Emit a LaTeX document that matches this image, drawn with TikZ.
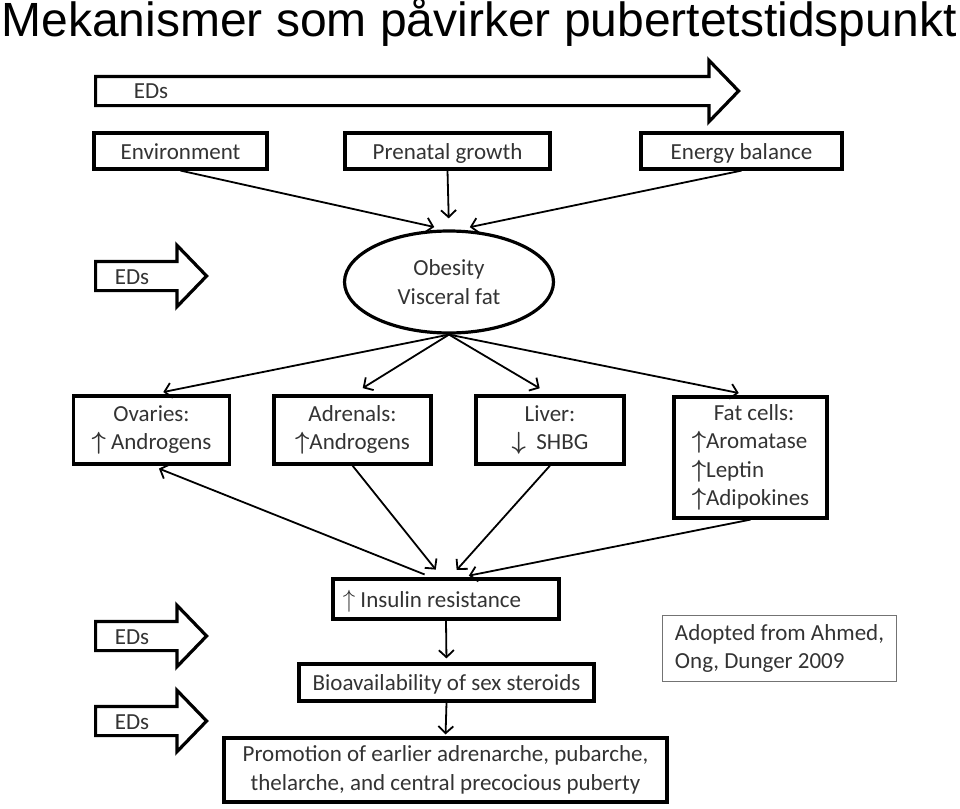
\documentclass[tikz,border=0pt]{standalone}
\usepackage{fontspec}
\usepackage{amsmath}
\setmainfont{Carlito}
\newfontfamily\titlefont{Liberation Sans}
\usetikzlibrary{shapes.geometric,shapes.arrows,arrows.meta}

\begin{document}
\begin{tikzpicture}[
        x=1pt, y=-1pt, % координаты как на исходной картинке
        font=\fontsize{23}{28.5}\selectfont,
        box/.style={draw, line width=3.2pt, inner sep=0pt, align=center, text=black!80}, % блоки схемы
        onebox/.style={box, text height=18pt, text depth=2pt}, % блоки в одну строку
        oval/.style={ellipse, draw, line width=3.2pt, inner sep=0pt, align=center, text=black!80},
        edarrow/.style={single arrow, draw, line width=3.2pt, inner xsep=0pt, inner ysep=13pt,
                single arrow head extend=16pt, single arrow tip angle=92, anchor=tail}, % стрелки EDs
        edtext/.style={text=black!80},
        link/.style={draw, line width=1.8pt, -{Straight Barb[length=7pt, width=15pt]}}, % связи
        note/.style={draw=black!55, line width=1.6pt, inner sep=0pt, align=left, text=black!80},
    ]

    \useasboundingbox (0,0) rectangle (960,808);

    \node[font=\titlefont\fontsize{48}{48}\selectfont, anchor=base] (title) at (479,37) {Mekanismer som påvirker pubertetstidspunkt};

    % стрелки EDs
    \node[edarrow, minimum height=643pt] (ed1) at (94,91) {};
    \node[edtext] (ed1txt) at (151,91) {EDs};
    \node[edarrow, minimum height=111pt] (ed2) at (94,276) {};
    \node[edtext] (ed2txt) at (132,277) {EDs};
    \node[edarrow, minimum height=111pt] (ed3) at (94,636) {};
    \node[edtext] (ed3txt) at (132,637) {EDs};
    \node[edarrow, minimum height=111pt] (ed4) at (94,721) {};
    \node[edtext] (ed4txt) at (132,722) {EDs};

    % верхний ряд
    \node[onebox, minimum width=173pt, minimum height=36pt] (env) at (180.5,151) {Environment};
    \node[onebox, minimum width=205pt, minimum height=36pt] (prenatal) at (447.5,151) {Prenatal growth};
    \node[onebox, minimum width=201pt, minimum height=36pt] (energy) at (741.5,151) {Energy balance};

    \node[oval, minimum width=209pt, minimum height=102pt] (obesity) at (449,282) {Obesity\\Visceral fat};

    % органы
    \node[box, minimum width=156pt, minimum height=68pt] (ovaries) at (151.5,430) {Ovaries:\\$\boldsymbol{\uparrow}$ Androgens};
    \node[box, minimum width=157pt, minimum height=68pt] (adrenals) at (352.5,430) {Adrenals:\\$\boldsymbol{\uparrow}$Androgens};
    \node[box, minimum width=148pt, minimum height=68pt] (liver) at (550,430) {Liver:\\$\boldsymbol{\downarrow}$\ \ SHBG};
    \node[box, minimum width=153pt, minimum height=121pt, align=left] (fat) at (750.5,457.5)
        {\hspace*{22pt}Fat cells:\\$\boldsymbol{\uparrow}$Aromatase\\$\boldsymbol{\uparrow}$Leptin\\$\boldsymbol{\uparrow}$Adipokines};

    % нижняя цепочка
    \node[onebox, minimum width=226pt, minimum height=40pt] (insulin) at (446,599) {$\uparrow$ Insulin resistance\hspace*{28pt}};
    \node[onebox, minimum width=295pt, minimum height=37pt] (bio) at (446.5,682.5) {Bioavailability of sex steroids};
    \node[box, minimum width=443pt, minimum height=64pt] (promo) at (445.5,770) {Promotion of earlier adrenarche, pubarche,\\thelarche, and central precocious puberty};

    \node[note, minimum width=234pt, minimum height=66pt] (source) at (779.5,648.5) {Adopted from Ahmed,\\Ong, Dunger 2009};

    % связи
    \draw[link, shorten >=11pt] (env.south) -- ([xshift=-4pt]obesity.north);
    \draw[link, shorten >=11pt] (prenatal.south) -- (obesity.north);
    \draw[link, shorten >=11pt] (energy.south) -- ([xshift=10pt]obesity.north);

    \draw[link, shorten >=12pt] (obesity.south) -- (ovaries.north);
    \draw[link, shorten >=12pt] (obesity.south) -- (adrenals.north);
    \draw[link, shorten >=12pt] (obesity.south) -- (liver.north);
    \draw[link, shorten >=12pt] (obesity.south) -- (fat.north);

    \draw[link, shorten <=8pt, shorten >=8pt] ([xshift=-14pt]insulin.north) -- (ovaries.south);
    \draw[link, shorten >=10pt] (adrenals.south) -- ([xshift=-4pt]insulin.north);
    \draw[link, shorten >=10pt] (liver.south) -- ([xshift=4pt]insulin.north);
    \draw[link, shorten >=9pt] (fat.south) -- ([xshift=14pt]insulin.north);

    \draw[link, shorten >=4pt] (insulin.south) -- (bio.north);
    \draw[link, shorten >=2pt] (bio.south) -- (promo.north);
\end{tikzpicture}
\end{document}
